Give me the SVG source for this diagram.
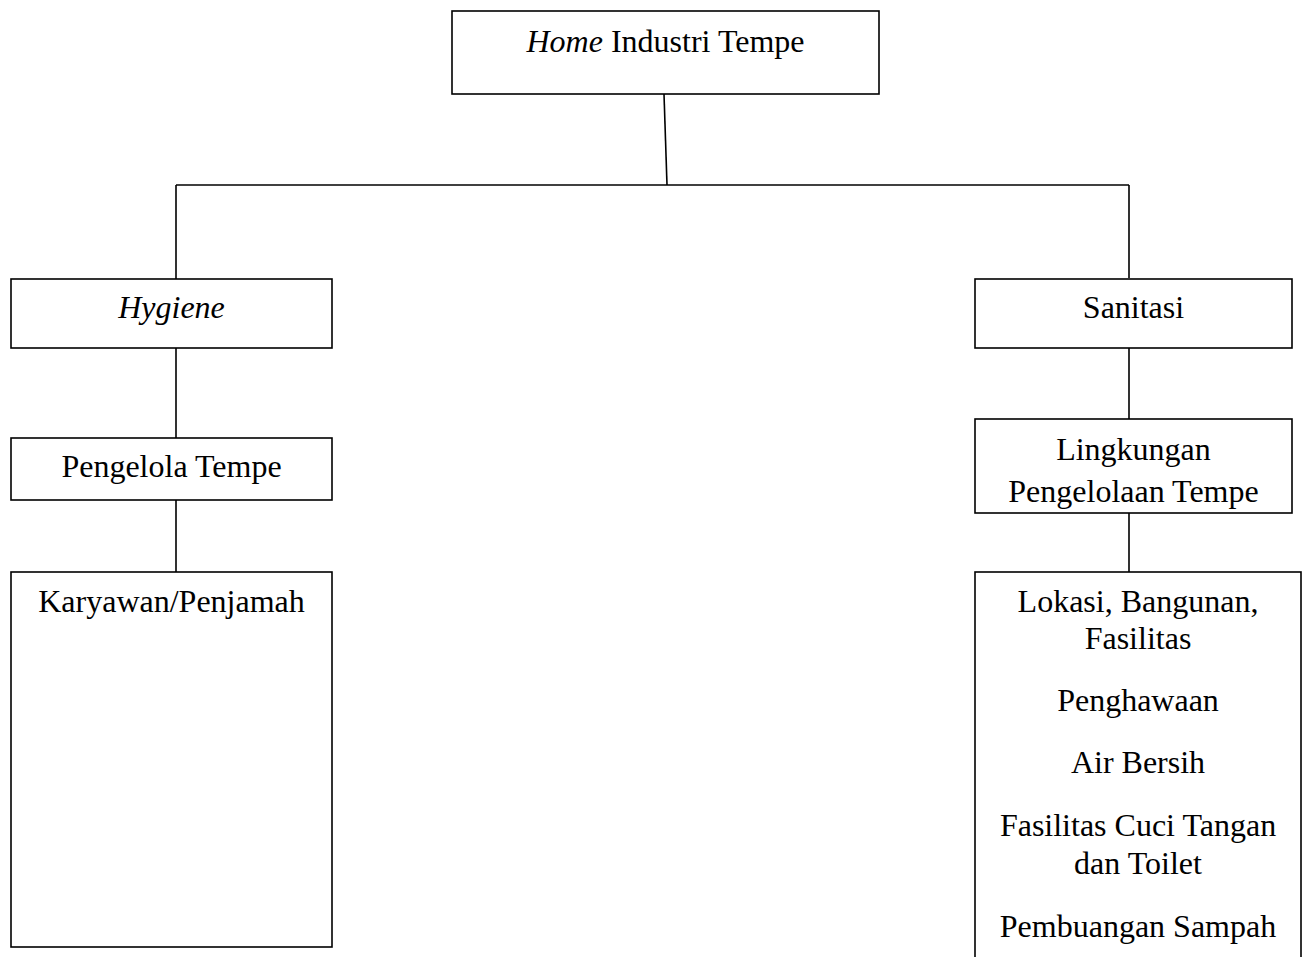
<svg xmlns="http://www.w3.org/2000/svg" width="1303" height="957" viewBox="0 0 1303 957">
<style>
.box{fill:#fff;stroke:#000;stroke-width:1.6}
.ln{fill:none;stroke:#000;stroke-width:1.6}
text{font-family:"Liberation Serif","Times New Roman",serif;font-size:32px;fill:#000;text-anchor:middle}
.it{font-style:italic}
</style>
<rect width="1303" height="957" fill="#fff"/>
<g id="connectors">
<path class="ln" d="M664,94 L667,185"/>
<path class="ln" d="M176,185 L1129,185"/>
<path class="ln" d="M176,185 V279 M176,348 V438 M176,500 V572"/>
<path class="ln" d="M1129,185 V278 M1129,348 V419 M1129,513 V572"/>
</g>
<g id="home">
<rect class="box" x="452" y="11" width="427" height="83"/>
<text x="665.5" y="52"><tspan class="it">Home</tspan> Industri Tempe</text>
</g>
<g id="hygiene">
<rect class="box" x="11" y="279" width="321" height="69"/>
<text class="it" x="171.5" y="318">Hygiene</text>
</g>
<g id="pengelola">
<rect class="box" x="11" y="438" width="321" height="62"/>
<text x="171.5" y="477">Pengelola Tempe</text>
</g>
<g id="karyawan">
<rect class="box" x="11" y="572" width="321" height="375"/>
<text x="171.5" y="612">Karyawan/Penjamah</text>
</g>
<g id="sanitasi">
<rect class="box" x="975" y="279" width="317" height="69"/>
<text x="1133.5" y="318">Sanitasi</text>
</g>
<g id="lingkungan">
<rect class="box" x="975" y="419" width="317" height="94"/>
<text x="1133.5" y="460">Lingkungan</text>
<text x="1133.5" y="502">Pengelolaan Tempe</text>
</g>
<g id="aspek">
<rect class="box" x="975" y="572" width="326" height="400"/>
<text x="1138" y="612">Lokasi, Bangunan,</text>
<text x="1138" y="649">Fasilitas</text>
<text x="1138" y="711">Penghawaan</text>
<text x="1138" y="773">Air Bersih</text>
<text x="1138" y="836">Fasilitas Cuci Tangan</text>
<text x="1138" y="874">dan Toilet</text>
<text x="1138" y="937">Pembuangan Sampah</text>
</g>
</svg>
